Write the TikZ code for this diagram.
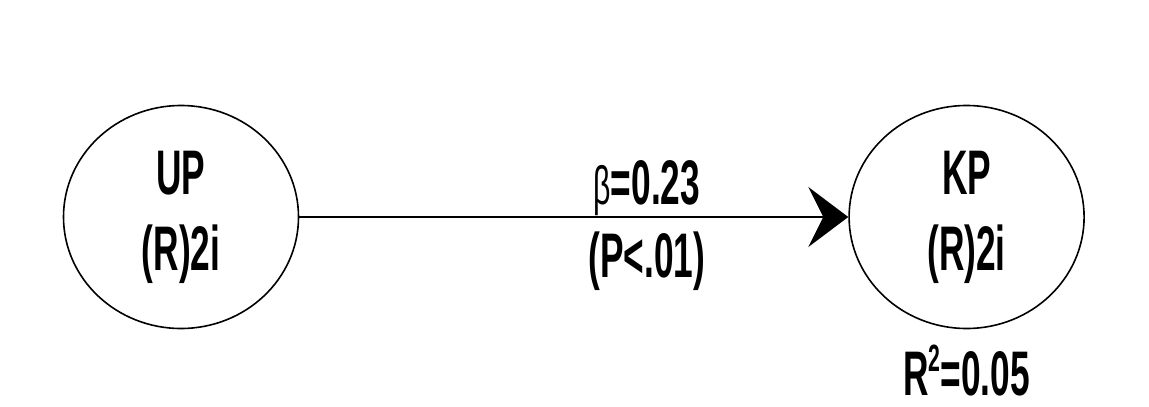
\documentclass[tikz,border=0pt]{standalone}
\usepackage{fontspec}
\newfontfamily\pathfont[FakeStretch=0.56]{Liberation Sans}
\usetikzlibrary{positioning,shapes.geometric,arrows.meta}
\definecolor{ink}{HTML}{000000}
\tikzset{
  >={Stealth[length=40pt,width=60pt,inset=15pt]},
  every node/.style={font=\pathfont\bfseries\fontsize{63}{76}\selectfont},
  % --- nodes
  latent/.style = {ellipse, draw=ink, line width=1.6pt, fill=white,
                   minimum width=235pt, minimum height=223pt, inner sep=0pt,
                   align=center},
  coef/.style   = {inner sep=0pt, text=ink},
  rsq/.style    = {inner sep=0pt, text=ink},
  % --- edges
  e/.style      = {->, line width=2pt, draw=ink},
}
\newcommand\sqmark{\raisebox{24pt}{\fontsize{38}{40}\selectfont 2}}
\begin{document}
\begin{tikzpicture}[x=1pt,y=-1pt]
  \useasboundingbox (0,0) rectangle (1149,407);
  \node[latent] (up) at (181,217) {UP\\(R)2i};
  \node[latent, right=549pt of up] (kp) {KP\\(R)2i};
  \node[rsq, below=15pt of kp] (r2) {R\sqmark=0.05};
  \draw[e] (up) -- node[coef, above, pos=0.633] {{\mdseries\fontsize{54}{60}\selectfont β}=0.23}
                   node[coef, below=14pt, pos=0.633] {(P<.01)} (kp);
\end{tikzpicture}
\end{document}
